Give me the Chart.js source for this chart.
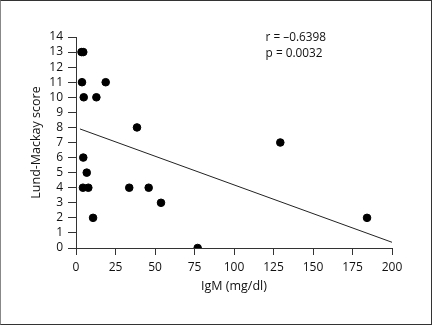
<!DOCTYPE html>
<html>
<head>
<meta charset="utf-8">
<script src="https://cdn.jsdelivr.net/npm/chart.js@4.4.1/dist/chart.umd.min.js"></script>
<style>
  html, body { margin: 0; padding: 0; background: #fff; }
  #wrap { position: relative; width: 432px; height: 325px; }
  #frame { position: absolute; left: 0; top: 0; width: 432px; height: 325px; box-sizing: border-box;
           border: 1px solid #333; border-left-color: #888; pointer-events: none; }
</style>
</head>
<body>
<div id="wrap">
  <canvas id="c" width="432" height="325"></canvas>
  <div id="frame"></div>
</div>
<script>
// Data
const igM   = [3.5, 4.6, 3.8, 4.9, 12.9, 18.8, 38.6, 129.3, 4.6, 6.8, 4.4, 7.8, 33.7, 46.0, 53.8, 10.8, 184.2, 77.0];
const lmScore = [13, 13, 11, 10, 10, 11, 8, 7, 6, 5, 4, 4, 4, 4, 3, 2, 2, 0];
// Regression line end points
const fitX = [2.5, 200];
const fitY = [7.9, 0.38];
// Axis ticks
const xTicks = [0, 25, 50, 75, 100, 125, 150, 175, 200];
const yTicks = [0, 1, 2, 3, 4, 5, 6, 7, 8, 9, 10, 11, 12, 13, 14];
const statLines = ['r = \u20130.6398', 'p = 0.0032'];

const FONT = 'Open Sans';
const TXT = '#111';
const AX = '#333';

const scatterPts = igM.map((x, i) => ({ x: x, y: lmScore[i] }));
const fitPts = fitX.map((x, i) => ({ x: x, y: fitY[i] }));

const statPlugin = {
  id: 'stat',
  afterDraw(chart) {
    const ctx = chart.ctx;
    const xs = chart.scales.x, ys = chart.scales.y;
    const px = xs.getPixelForValue(120);
    const py = ys.getPixelForValue(14) + 1;
    ctx.save();
    ctx.font = '11.8px "' + FONT + '"';
    ctx.fillStyle = TXT;
    ctx.textAlign = 'left';
    ctx.textBaseline = 'middle';
    statLines.forEach((t, i) => ctx.fillText(t, px, py + i * 16));
    ctx.restore();
  }
};

new Chart(document.getElementById('c'), {
  type: 'scatter',
  data: {
    datasets: [
      {
        type: 'line',
        data: fitPts,
        borderColor: '#222',
        borderWidth: 1,
        pointRadius: 0,
        fill: false,
        order: 2
      },
      {
        data: scatterPts,
        backgroundColor: '#000',
        borderColor: '#000',
        pointRadius: 3.8,
        pointHoverRadius: 3.8,
        order: 1
      }
    ]
  },
  options: {
    responsive: false,
    animation: false,
    events: [],
    layout: { padding: { left: 0, right: 40, top: 37, bottom: 31 } },
    plugins: { legend: { display: false }, tooltip: { enabled: false } },
    scales: {
      x: {
        type: 'linear',
        min: 0, max: 200,
        afterBuildTicks(scale) { scale.ticks = xTicks.map(v => ({ value: v })); },
        afterFit(scale) { scale.height = 46; },
        grid: { display: true, drawOnChartArea: false, drawTicks: true, tickLength: 7, color: AX, lineWidth: 1 },
        border: { display: true, color: AX, width: 1 },
        ticks: { color: TXT, font: { family: FONT, size: 12 }, padding: 5, maxRotation: 0, autoSkip: false },
        title: { display: true, text: 'IgM (mg/dl)', color: TXT, font: { family: FONT, size: 12.5 }, padding: { top: 0, bottom: 0 } }
      },
      y: {
        type: 'linear',
        min: 0, max: 14,
        afterBuildTicks(scale) { scale.ticks = yTicks.map(v => ({ value: v })); },
        afterFit(scale) { scale.width = 76; },
        grid: { display: true, drawOnChartArea: false, drawTicks: true, tickLength: 8, color: AX, lineWidth: 1 },
        border: { display: true, color: AX, width: 1 },
        ticks: { color: TXT, font: { family: FONT, size: 12 }, padding: 5, autoSkip: false },
        title: { display: true, text: 'Lund-Mackay score', color: TXT, font: { family: FONT, size: 12.5 }, padding: { top: 29.4, bottom: 0 } }
      }
    }
  },
  plugins: [statPlugin]
});
</script>
</body>
</html>
